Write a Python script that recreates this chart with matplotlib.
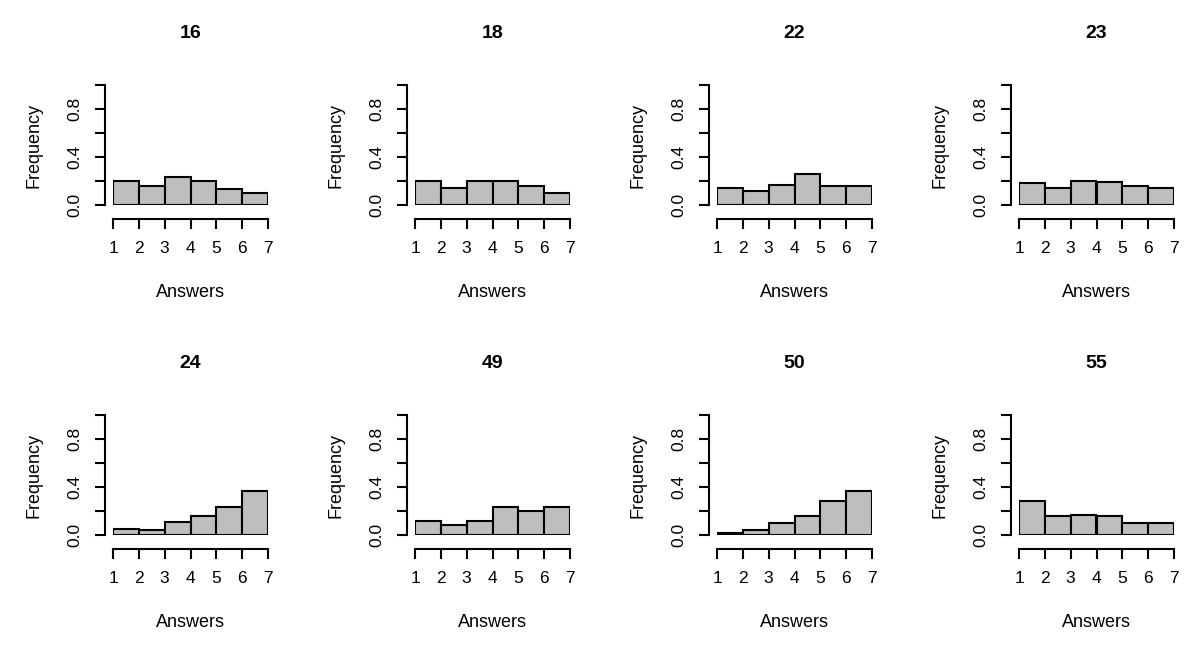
import numpy as np
from matplotlib import pyplot as plt

# question ids and relative frequencies of answers 1..7 (6 bins)
titles = ["16", "18", "22", "23", "24", "49", "50", "55"]
freqs = [
    [0.20, 0.16, 0.23, 0.20, 0.13, 0.10],
    [0.20, 0.14, 0.20, 0.20, 0.16, 0.10],
    [0.14, 0.12, 0.17, 0.26, 0.16, 0.16],
    [0.18, 0.14, 0.20, 0.19, 0.16, 0.14],
    [0.05, 0.04, 0.11, 0.16, 0.23, 0.37],
    [0.12, 0.08, 0.12, 0.23, 0.20, 0.23],
    [0.02, 0.04, 0.10, 0.16, 0.28, 0.37],
    [0.28, 0.16, 0.17, 0.16, 0.10, 0.10],
]
edges = np.arange(1, 8)

W, H = 1200, 655
fig = plt.figure(figsize=(12, 6.55), dpi=100)
plt.rcParams['font.family'] = ['Liberation Sans', 'DejaVu Sans']

for i, (t, f) in enumerate(zip(titles, freqs)):
    r, c = divmod(i, 4)
    x0 = 113 + c * 302
    ytop = 85 + r * 330
    ax = fig.add_axes([x0 / W, 1 - (ytop + 120) / H, 155 / W, 120 / H])
    ax.bar(edges[:-1], f, width=1, align='edge', color='#bebebe',
           edgecolor='black', linewidth=1.5)
    ax.set_xlim(1, 7)
    ax.set_ylim(0, 1)
    for s in ['top', 'right']:
        ax.spines[s].set_visible(False)
    ax.spines['left'].set_position(('outward', 6))
    ax.spines['bottom'].set_position(('outward', 10))
    ax.spines['left'].set_linewidth(1.5)
    ax.spines['bottom'].set_linewidth(1.5)
    ax.set_xticks(edges)
    ax.set_yticks(np.arange(0, 1.01, 0.2))
    ax.set_yticklabels(["0.0", "", "0.4", "", "0.8", ""], rotation=90, va='center')
    ax.tick_params(width=1.5, length=7, labelsize=12.5)
    ax.tick_params(axis='x', pad=9)
    ax.tick_params(axis='y', pad=9)
    ax.set_title(t, fontweight='bold', fontsize=14, pad=34)
    ax.set_xlabel("Answers", fontsize=13, labelpad=20)
    ax.set_ylabel("Frequency", fontsize=13, labelpad=18)

plt.savefig("out.png")
